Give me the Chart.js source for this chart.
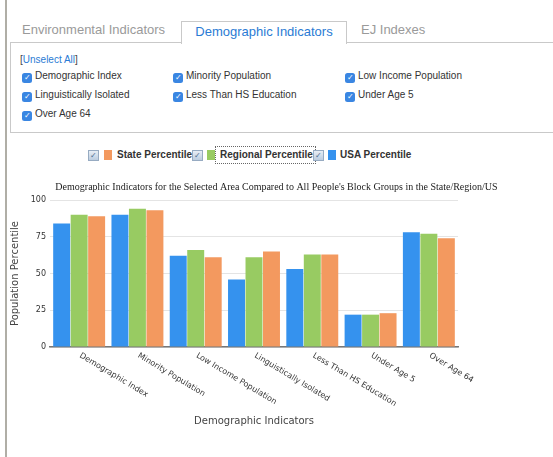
<!DOCTYPE html>
<html>
<head>
<meta charset="utf-8">
<script src="https://cdn.jsdelivr.net/npm/chart.js@4.4.1/dist/chart.umd.min.js"></script>
<style>
  html, body { margin: 0; padding: 0; background: #fff; }
  body { width: 553px; height: 457px; position: relative; overflow: hidden; font-family: "Liberation Sans", Arial, sans-serif; }
  .abs { position: absolute; white-space: nowrap; }
  .vline { position: absolute; left: 5px; top: 0; width: 2px; height: 457px; background: #b0aea6; }
  .tab { font-size: 13px; color: #9a9a9a; line-height: 16px; }
  .tab-active { position: absolute; left: 181px; top: 21px; width: 164px; height: 22px; border: 1px solid #c9c9c9; border-bottom: none; background: #fff; z-index: 2; font-size: 13px; color: #2a7bd4; text-align: center; line-height: 20px; }
  .panel { position: absolute; left: 10px; top: 42px; width: 560px; height: 89px; border: 1px solid #c9c9c9; }
  .opt { font-size: 10px; color: #333; line-height: 12px; }
  .cb { display: inline-block; width: 10px; height: 10px; border-radius: 2.5px; background: #3a86e2; color: #fff; font-size: 8px; line-height: 10px; text-align: center; vertical-align: -1px; margin-right: 3px; }
  .link { font-size: 10px; color: #2a7bd4; line-height: 12px; }
  .link b { color: #444; font-weight: normal; }
  .lg { font-size: 10px; font-weight: bold; color: #333; line-height: 12px; }
  .lcb { position: absolute; width: 9px; height: 9px; border: 1px solid #97abc2; background: linear-gradient(#e8eef5, #bccde0); color: #4c6d90; font-size: 8px; line-height: 9px; text-align: center; }
  .sw { position: absolute; width: 8px; height: 10px; }
  #wrap { position: absolute; left: 0; top: 176px; width: 553px; height: 268px; }
</style>
</head>
<body>
<div class="vline"></div>

<div class="abs tab" style="left:22px; top:22px;">Environmental Indicators</div>
<div class="tab-active">Demographic Indicators</div>
<div class="abs tab" style="left:361px; top:22px;">EJ Indexes</div>

<div class="panel"></div>
<div class="abs link" style="left:20px; top:54px;"><b>[</b>Unselect All<b>]</b></div>
<div class="abs opt" style="left:22px; top:70px;"><span class="cb">✓</span>Demographic Index</div>
<div class="abs opt" style="left:173px; top:70px;"><span class="cb">✓</span>Minority Population</div>
<div class="abs opt" style="left:345px; top:70px;"><span class="cb">✓</span>Low Income Population</div>
<div class="abs opt" style="left:22px; top:89px;"><span class="cb">✓</span>Linguistically Isolated</div>
<div class="abs opt" style="left:173px; top:89px;"><span class="cb">✓</span>Less Than HS Education</div>
<div class="abs opt" style="left:345px; top:89px;"><span class="cb">✓</span>Under Age 5</div>
<div class="abs opt" style="left:22px; top:108px;"><span class="cb">✓</span>Over Age 64</div>

<div class="lcb" style="left:88px; top:150px;">✓</div>
<div class="sw" style="left:104px; top:150px; background:#f3995f;"></div>
<div class="abs lg" style="left:117px; top:149px;">State Percentile</div>
<div class="lcb" style="left:192px; top:150px;">✓</div>
<div class="sw" style="left:207px; top:150px; background:#98cb62;"></div>
<div class="abs lg" style="left:215px; top:146px; border:1px dotted #666; padding:2px 2px 2px 4px;">Regional Percentile</div>
<div class="lcb" style="left:313px; top:150px;">✓</div>
<div class="sw" style="left:328px; top:150px; background:#3592ee;"></div>
<div class="abs lg" style="left:340px; top:149px;">USA Percentile</div>

<div id="wrap"><canvas id="demoChart"></canvas></div>

<script>
// Demographic indicator percentiles
const categories = ['Demographic Index', 'Minority Population', 'Low Income Population',
    'Linguistically Isolated', 'Less Than HS Education', 'Under Age 5', 'Over Age 64'];
const usaPercentile = [84, 90, 62, 46, 53, 22, 78];
const regionalPercentile = [90, 94, 66, 61, 63, 22, 77];
const statePercentile = [89, 93, 61, 65, 63, 23, 74];
const yTicks = [0, 25, 50, 75, 100];

// slanted category labels running down to the right from each tick
const slantLabels = {
    id: 'slantLabels',
    afterDraw(chart) {
        const ctx = chart.ctx;
        const xScale = chart.scales.x;
        ctx.save();
        ctx.font = '8px "DejaVu Sans"';
        ctx.fillStyle = '#333';
        ctx.textAlign = 'left';
        ctx.textBaseline = 'middle';
        categories.forEach(function(label, i) {
            ctx.save();
            ctx.translate(xScale.getPixelForValue(i) + 1, xScale.top + 8);
            ctx.rotate(31 * Math.PI / 180);
            ctx.fillText(label, 0, 0);
            ctx.restore();
        });
        ctx.restore();
    }
};

document.addEventListener('DOMContentLoaded', function() {
    const ctx = document.getElementById('demoChart').getContext('2d');
    new Chart(ctx, {
        type: 'bar',
        data: {
            labels: categories,
            datasets: [{
                label: 'USA Percentile',
                data: usaPercentile,
                backgroundColor: '#3592ee'
            }, {
                label: 'Regional Percentile',
                data: regionalPercentile,
                backgroundColor: '#98cb62'
            }, {
                label: 'State Percentile',
                data: statePercentile,
                backgroundColor: '#f3995f'
            }]
        },
        options: {
            responsive: true,
            maintainAspectRatio: false,
            animation: false,
            datasets: {
                bar: {
                    categoryPercentage: 0.9,
                    barPercentage: 0.97
                }
            },
            layout: { padding: 0 },
            plugins: {
                legend: { display: false },
                tooltip: { enabled: false },
                title: {
                    display: true,
                    text: "Demographic Indicators for the Selected Area Compared to All People's Block Groups in the State/Region/US",
                    color: '#222',
                    font: { family: '"Liberation Serif"', size: 10, weight: 'normal' },
                    padding: { top: 5, bottom: 7 }
                }
            },
            scales: {
                x: {
                    grid: { display: false },
                    border: { color: '#777', width: 1.5 },
                    ticks: { display: false },
                    afterFit: function(scale) { scale.height = 97; },
                    title: {
                        display: true,
                        text: 'Demographic Indicators',
                        color: '#444',
                        font: { family: '"DejaVu Sans"', size: 10 },
                        padding: { top: 0, bottom: 17 }
                    }
                },
                y: {
                    min: 0,
                    max: 100,
                    afterBuildTicks: function(scale) {
                        scale.ticks = yTicks.map(function(v) { return { value: v }; });
                    },
                    grid: { color: '#e4e4e4', lineWidth: 1, drawTicks: false },
                    border: { display: false },
                    ticks: {
                        color: '#333',
                        font: { family: '"DejaVu Sans"', size: 8 },
                        padding: 4
                    },
                    afterFit: function(scale) { scale.width = 50; },
                    title: {
                        display: true,
                        text: 'Population Percentile',
                        color: '#444',
                        font: { family: '"DejaVu Sans"', size: 10 },
                        padding: { top: 9, bottom: 0 }
                    }
                },
                yRight: {
                    position: 'right',
                    display: true,
                    grid: { display: false },
                    border: { display: false },
                    ticks: { display: false },
                    afterFit: function(scale) { scale.width = 95; }
                }
            }
        },
        plugins: [slantLabels]
    });
});
</script>
</body>
</html>
